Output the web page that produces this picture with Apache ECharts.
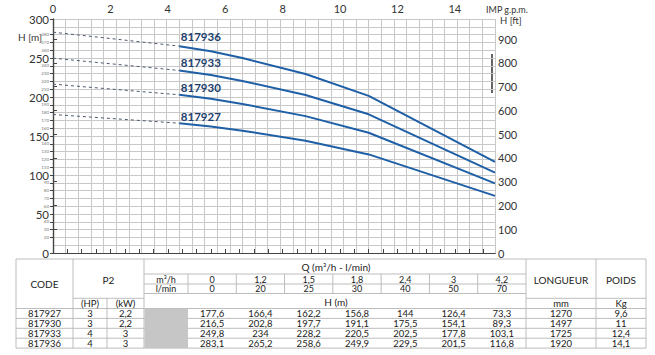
<!DOCTYPE html>
<html>
<head>
<meta charset="utf-8">
<script src="https://cdn.jsdelivr.net/npm/echarts@6/dist/echarts.min.js"></script>
<style>
html,body{margin:0;padding:0;background:#fff;}
#chart{width:655px;height:355px;}
</style>
</head>
<body>
<div id="chart"></div>
<script>
// ---- data ----
const pumpCodes = ['817927', '817930', '817933', '817936'];
const hpValues = ['3', '3', '4', '4'];
const kwValues = ['2,2', '2,2', '3', '3'];
const qM3h = ['0', '1,2', '1,5', '1,8', '2,4', '3', '4,2'];
const qLmin = [0, 20, 25, 30, 40, 50, 70];
const h817927 = [177.6, 166.4, 162.2, 156.8, 144, 126.4, 73.3];
const h817930 = [216.5, 202.8, 197.7, 191.1, 175.5, 154.1, 89.3];
const h817933 = [249.8, 234, 228.2, 220.5, 202.5, 177.8, 103.1];
const h817936 = [283.1, 265.2, 258.6, 249.9, 229.5, 201.5, 116.8];
const longueurMm = ['1270', '1497', '1725', '1920'];
const poidsKg = ['9,6', '11', '12,4', '14,1'];
const gpmTickLabels = [0, 2, 4, 6, 8, 10, 12, 14];

const heads = [h817927, h817930, h817933, h817936];
const FONT = 'Lato, "Open Sans", sans-serif';
const lineBlue = '#1f5fa6';
const labelNavy = '#1d3f6e';
const gridGray = '#c8c8c8';
const axisDark = '#444';

const fmt = v => String(v).replace('.', ',');

// ---- series ----
const series = [];
const labelOffsets = [-7, -7, -8, -10];
heads.forEach((h, p) => {
  // dashed extrapolated part
  series.push({
    type: 'line', xAxisIndex: 1, yAxisIndex: 0,
    data: [[qLmin[0], h[0]], [qLmin[1], h[1]]],
    showSymbol: false, symbol: 'none', silent: true,
    lineStyle: { color: '#4d5b70', width: 1, type: [3, 3] },
    z: 3
  });
  // solid operating part
  const pts = [];
  for (let i = 1; i < qLmin.length; i++) {
    if (i === 1) {
      pts.push({
        value: [qLmin[i], h[i]],
        label: {
          show: true, formatter: pumpCodes[p], position: 'right', distance: 1,
          offset: [0, labelOffsets[p]], color: labelNavy, fontSize: 11.5,
          fontWeight: 'bold', fontFamily: FONT, opacity: 1
        }
      });
    } else {
      pts.push([qLmin[i], h[i]]);
    }
  }
  series.push({
    type: 'line', xAxisIndex: 1, yAxisIndex: 0,
    data: pts, smooth: false,
    showSymbol: true, symbol: 'circle', symbolSize: 1,
    itemStyle: { color: 'rgba(0,0,0,0)', borderWidth: 0 },
    label: { show: false },
    lineStyle: { color: lineBlue, width: 2 },
    silent: true, z: 4
  });
});

// ---- table (graphic) ----
const T = {
  left: 16, codeR: 73, hpR: 107, p2R: 144, labR: 188, qR: 526, longR: 596, right: 646,
  top: 259, r1: 274, r2: 284, r3: 293.5, r4: 298.3, r5: 308.5, rowH: 9.9
};
const qColW = (T.qR - T.labR) / qM3h.length;
const qColCenter = i => T.labR + qColW * (i + 0.5);
const tableBottom = T.r5 + T.rowH * pumpCodes.length;
const tblLine = '#bdbdbd';
const g = [];
function hl(x1, x2, y) {
  g.push({ type: 'line', shape: { x1, y1: y, x2, y2: y }, style: { stroke: tblLine, lineWidth: 1 }, silent: true });
}
function vl(x, y1, y2) {
  g.push({ type: 'line', shape: { x1: x, y1, x2: x, y2 }, style: { stroke: tblLine, lineWidth: 1 }, silent: true });
}
function tx(text, x, y, size, color) {
  g.push({
    type: 'text', x, y, silent: true,
    style: { text, fill: color || '#222', font: (size || 10) + 'px ' + FONT, align: 'center', verticalAlign: 'middle' }
  });
}
// horizontal lines
hl(T.left, T.right, T.top);
hl(T.p2R, T.qR, T.r1);
hl(T.p2R, T.qR, T.r2);
hl(T.p2R, T.qR, T.r3);
hl(T.codeR, T.p2R, T.r4);
hl(T.qR, T.right, T.r4);
hl(T.left, T.right, T.r5);
for (let r = 1; r <= pumpCodes.length; r++) hl(T.left, T.right, T.r5 + T.rowH * r);
// vertical lines
[T.left, T.codeR, T.p2R, T.qR, T.longR, T.right].forEach(x => vl(x, T.top, tableBottom));
vl(T.hpR, T.r4, tableBottom);
vl(T.labR, T.r1, T.r3);
for (let i = 1; i < qM3h.length; i++) vl(T.labR + qColW * i, T.r1, T.r3);
// gray cell
g.push({ type: 'rect', shape: { x: T.p2R + 0.5, y: T.r5 + 0.5, width: T.labR - T.p2R - 0.5, height: tableBottom - T.r5 - 0.5 }, style: { fill: '#c6c6c6' }, silent: true });
// header texts
const qMid = (T.p2R + T.qR) / 2 + 1;
tx('Q (m³/h - l/min)', qMid, (T.top + T.r1) / 2 + 0.5, 10);
tx('m³/h', (T.p2R + T.labR) / 2, (T.r1 + T.r2) / 2, 9);
tx('l/min', (T.p2R + T.labR) / 2, (T.r2 + T.r3) / 2, 9);
qM3h.forEach((v, i) => tx(v, qColCenter(i), (T.r1 + T.r2) / 2, 9));
qLmin.forEach((v, i) => tx(String(v), qColCenter(i), (T.r2 + T.r3) / 2, 9));
tx('H (m)', qMid, (T.r3 + T.r5) / 2 + 0.5, 10);
tx('CODE', (T.left + T.codeR) / 2, 284, 10);
tx('P2', (T.codeR + T.p2R) / 2, 280, 10);
tx('(HP)', (T.codeR + T.hpR) / 2, (T.r4 + T.r5) / 2 + 0.5, 9.5);
tx('(kW)', (T.hpR + T.p2R) / 2, (T.r4 + T.r5) / 2 + 0.5, 9.5);
tx('LONGUEUR', (T.qR + T.longR) / 2, 280, 10);
tx('POIDS', (T.longR + T.right) / 2, 280, 10);
tx('mm', (T.qR + T.longR) / 2, (T.r4 + T.r5) / 2 + 0.5, 9.5);
tx('Kg', (T.longR + T.right) / 2, (T.r4 + T.r5) / 2 + 0.5, 9.5);
// data rows
pumpCodes.forEach((code, r) => {
  const y = T.r5 + T.rowH * (r + 0.5);
  tx(code, (T.left + T.codeR) / 2, y, 9.5);
  tx(hpValues[r], (T.codeR + T.hpR) / 2, y, 9.5);
  tx(kwValues[r], (T.hpR + T.p2R) / 2, y, 9.5);
  heads[r].forEach((v, i) => tx(fmt(v), qColCenter(i), y, 9.5));
  tx(longueurMm[r], (T.qR + T.longR) / 2, y, 9.5);
  tx(poidsKg[r], (T.longR + T.right) / 2, y, 9.5);
});
// axis titles
g.push({ type: 'text', x: 18, y: 32, silent: true, style: { text: 'H [m]', fill: '#333', font: '10px ' + FONT } });
g.push({ type: 'text', x: 486, y: 5, silent: true, style: { text: 'IMP g.p.m.', fill: '#333', font: '9px ' + FONT } });
g.push({ type: 'text', x: 500, y: 15, silent: true, style: { text: 'H [ft]', fill: '#333', font: '9.5px ' + FONT } });
// small dark mark on the right axis
g.push({ type: 'line', shape: { x1: 492, y1: 54, x2: 492, y2: 93 }, style: { stroke: '#222', lineWidth: 1.4 }, silent: true });

const chart = echarts.init(document.getElementById('chart'), null, { renderer: 'svg' });
chart.setOption({
  animation: false,
  backgroundColor: '#fff',
  textStyle: { fontFamily: FONT },
  grid: { left: 53, right: 160, top: 19, bottom: 102 },
  xAxis: [
    {
      type: 'value', position: 'top', min: 0, max: 15.4, interval: 0.5,
      axisLine: { show: true, lineStyle: { color: axisDark, width: 1.2 } },
      axisTick: { show: true, length: 4, lineStyle: { color: axisDark } },
      splitLine: { show: false },
      axisLabel: {
        show: true, margin: 5, fontSize: 11, color: '#333', fontFamily: FONT,
        showMaxLabel: false, showMinLabel: true,
        formatter: v => gpmTickLabels.indexOf(v) >= 0 ? String(v) : ''
      }
    },
    {
      type: 'value', position: 'bottom', min: 0, max: 70, interval: 2,
      axisLine: { show: true, onZero: false, lineStyle: { color: axisDark, width: 1.2 } },
      axisTick: { show: false }, axisLabel: { show: false },
      splitLine: { show: true, lineStyle: { color: gridGray, width: 1 } }
    }
  ],
  yAxis: [
    {
      type: 'value', position: 'left', min: 0, max: 300, interval: 10,
      axisLine: { show: true, lineStyle: { color: axisDark, width: 1.2 } },
      axisTick: { show: true, length: 3, lineStyle: { color: axisDark } },
      splitLine: { show: true, lineStyle: { color: gridGray, width: 1 } },
      axisLabel: {
        margin: 4, fontFamily: FONT, showMinLabel: true, showMaxLabel: true, hideOverlap: false,
        formatter: v => v % 50 === 0 ? '{b|' + v + '}' : '{s|' + v + '}',
        rich: {
          b: { fontSize: 11.5, color: '#333', fontFamily: FONT },
          s: { fontSize: 4.5, color: '#777', fontFamily: FONT }
        }
      }
    },
    {
      type: 'value', position: 'right', min: 0, max: 984.25, interval: 100,
      axisLine: { show: true, lineStyle: { color: axisDark, width: 1.2 } },
      axisTick: { show: true, length: 4, lineStyle: { color: axisDark } },
      splitLine: { show: false },
      axisLabel: { margin: 3, fontSize: 11, color: '#333', fontFamily: FONT, showMaxLabel: false }
    }
  ],
  graphic: g,
  series: series
});
</script>
</body>
</html>
